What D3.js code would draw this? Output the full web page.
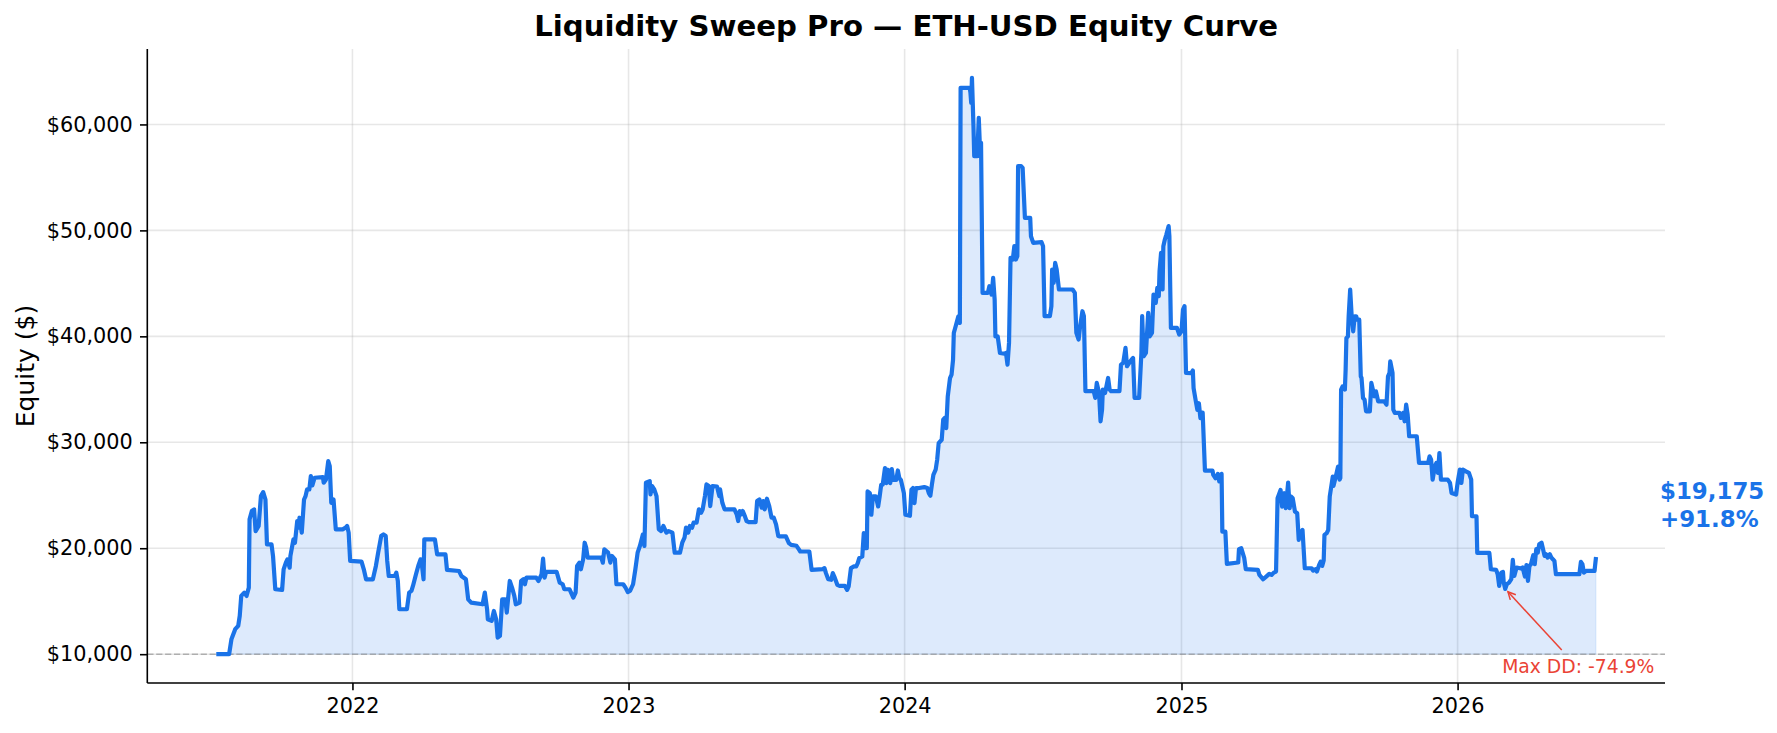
<!DOCTYPE html>
<html>
<head>
<meta charset="utf-8">
<script src="https://d3js.org/d3.v7.min.js"></script>
<style>
  body { margin: 0; background: #fff; }
  svg { display: block; font-family: "DejaVu Sans", sans-serif; }
</style>
</head>
<body>
<div id="chart"></div>
<script>
// equity curve (one row of dates <-> one row of values)
const dates = [
  "2021-07-05","2021-07-22","2021-07-25","2021-07-30","2021-08-03","2021-08-05","2021-08-07","2021-08-11",
  "2021-08-14","2021-08-17","2021-08-18","2021-08-21","2021-08-24","2021-08-26","2021-08-30","2021-09-02",
  "2021-09-05","2021-09-08","2021-09-10","2021-09-16","2021-09-18","2021-09-21","2021-09-30","2021-10-02",
  "2021-10-05","2021-10-07","2021-10-10","2021-10-11","2021-10-15","2021-10-17","2021-10-20","2021-10-22",
  "2021-10-23","2021-10-26","2021-10-29","2021-10-31","2021-11-02","2021-11-05","2021-11-07","2021-11-09",
  "2021-11-12","2021-11-23","2021-11-24","2021-11-27","2021-11-30","2021-12-02","2021-12-04","2021-12-07",
  "2021-12-10","2021-12-19","2021-12-23","2021-12-25","2021-12-27","2021-12-29","2022-01-13","2022-01-16",
  "2022-01-19","2022-01-28","2022-02-01","2022-02-04","2022-02-08","2022-02-11","2022-02-14","2022-02-16",
  "2022-02-18","2022-02-26","2022-02-28","2022-03-02","2022-03-04","2022-03-14","2022-03-17","2022-03-20",
  "2022-03-22","2022-03-26","2022-03-29","2022-04-01","2022-04-03","2022-04-05","2022-04-06","2022-04-20",
  "2022-04-23","2022-05-04","2022-05-06","2022-05-22","2022-05-25","2022-05-31","2022-06-03","2022-06-07",
  "2022-06-22","2022-06-25","2022-06-28","2022-06-29","2022-07-04","2022-07-07","2022-07-10","2022-07-12",
  "2022-07-15","2022-07-18","2022-07-22","2022-07-24","2022-07-28","2022-07-31","2022-08-03","2022-08-05",
  "2022-08-10","2022-08-12","2022-08-15","2022-08-17","2022-08-19","2022-09-01","2022-09-04","2022-09-08",
  "2022-09-10","2022-09-12","2022-09-14","2022-09-28","2022-10-02","2022-10-06","2022-10-08","2022-10-15",
  "2022-10-17","2022-10-20","2022-10-23","2022-10-25","2022-10-28","2022-10-30","2022-11-02","2022-11-04",
  "2022-11-06","2022-11-08","2022-11-26","2022-11-28","2022-11-30","2022-12-05","2022-12-08","2022-12-10",
  "2022-12-14","2022-12-16","2022-12-25","2022-12-28","2022-12-31","2023-01-03","2023-01-07","2023-01-10",
  "2023-01-13","2023-01-16","2023-01-20","2023-01-22","2023-01-24","2023-01-29","2023-01-30","2023-02-01",
  "2023-02-04","2023-02-07","2023-02-10","2023-02-13","2023-02-16","2023-02-20","2023-02-23","2023-02-28",
  "2023-03-03","2023-03-10","2023-03-13","2023-03-16","2023-03-18","2023-03-21","2023-03-23","2023-03-26",
  "2023-03-28","2023-04-01","2023-04-04","2023-04-07","2023-04-09","2023-04-12","2023-04-14","2023-04-17",
  "2023-04-19","2023-04-22","2023-04-28","2023-05-01","2023-05-02","2023-05-05","2023-05-08","2023-05-21",
  "2023-05-24","2023-05-26","2023-05-28","2023-05-30","2023-06-01","2023-06-04","2023-06-06","2023-06-09",
  "2023-06-18","2023-06-20","2023-06-23","2023-06-26","2023-06-28","2023-06-30","2023-07-03","2023-07-06",
  "2023-07-09","2023-07-12","2023-07-15","2023-07-18","2023-07-20","2023-07-28","2023-08-01","2023-08-04",
  "2023-08-11","2023-08-14","2023-08-16","2023-08-28","2023-08-31","2023-09-15","2023-09-17","2023-09-19",
  "2023-09-22","2023-09-26","2023-09-28","2023-09-30","2023-10-04","2023-10-07","2023-10-14","2023-10-17",
  "2023-10-19","2023-10-22","2023-10-26","2023-10-29","2023-10-31","2023-11-02","2023-11-06","2023-11-08",
  "2023-11-10","2023-11-12","2023-11-13","2023-11-16","2023-11-18","2023-11-20","2023-11-24","2023-11-27",
  "2023-11-29","2023-12-01","2023-12-03","2023-12-06","2023-12-08","2023-12-10","2023-12-13","2023-12-15",
  "2023-12-17","2023-12-21","2023-12-23","2023-12-25","2023-12-27","2023-12-30","2023-12-31","2024-01-02",
  "2024-01-08","2024-01-10","2024-01-12","2024-01-14","2024-01-16","2024-01-20","2024-01-27","2024-01-31",
  "2024-02-02","2024-02-04","2024-02-06","2024-02-08","2024-02-11","2024-02-13","2024-02-15","2024-02-19",
  "2024-02-21","2024-02-23","2024-02-25","2024-02-27","2024-03-01","2024-03-03","2024-03-05","2024-03-06",
  "2024-03-09","2024-03-12","2024-03-14","2024-03-15","2024-03-27","2024-03-28","2024-03-29","2024-03-30",
  "2024-04-01","2024-04-02","2024-04-06","2024-04-08","2024-04-10","2024-04-11","2024-04-13","2024-04-20",
  "2024-04-22","2024-04-25","2024-04-27","2024-04-29","2024-04-30","2024-05-03","2024-05-06","2024-05-12",
  "2024-05-14","2024-05-16","2024-05-18","2024-05-20","2024-05-23","2024-05-25","2024-05-27","2024-05-29",
  "2024-05-30","2024-06-03","2024-06-05","2024-06-08","2024-06-15","2024-06-16","2024-06-19","2024-06-30",
  "2024-07-02","2024-07-04","2024-07-11","2024-07-13","2024-07-14","2024-07-16","2024-07-18","2024-07-20",
  "2024-07-23","2024-08-10","2024-08-13","2024-08-15","2024-08-18","2024-08-20","2024-08-23","2024-08-25",
  "2024-08-27","2024-09-07","2024-09-09","2024-09-11","2024-09-14","2024-09-16","2024-09-18","2024-09-19",
  "2024-09-22","2024-09-26","2024-09-28","2024-09-30","2024-10-11","2024-10-13","2024-10-16","2024-10-19",
  "2024-10-21","2024-10-24","2024-10-27","2024-10-29","2024-10-31","2024-11-06","2024-11-09","2024-11-10",
  "2024-11-12","2024-11-15","2024-11-18","2024-11-20","2024-11-23","2024-11-25","2024-11-28","2024-11-30",
  "2024-12-02","2024-12-03","2024-12-05","2024-12-07","2024-12-08","2024-12-10","2024-12-12","2024-12-15",
  "2024-12-16","2024-12-18","2024-12-26","2024-12-29","2025-01-01","2025-01-03","2025-01-05","2025-01-07",
  "2025-01-14","2025-01-16","2025-01-17","2025-01-20","2025-01-22","2025-01-24","2025-01-26","2025-01-27",
  "2025-01-29","2025-02-01","2025-02-11","2025-02-12","2025-02-15","2025-02-18","2025-02-20","2025-02-23",
  "2025-02-24","2025-02-28","2025-03-02","2025-03-17","2025-03-18","2025-03-21","2025-03-23","2025-03-25",
  "2025-03-27","2025-04-12","2025-04-14","2025-04-19","2025-04-23","2025-04-27","2025-04-30","2025-05-03",
  "2025-05-06","2025-05-08","2025-05-12","2025-05-14","2025-05-17","2025-05-19","2025-05-22","2025-05-24",
  "2025-05-26","2025-05-28","2025-05-31","2025-06-03","2025-06-05","2025-06-07","2025-06-10","2025-06-13",
  "2025-06-22","2025-06-24","2025-06-27","2025-06-29","2025-07-02","2025-07-04","2025-07-06","2025-07-08",
  "2025-07-09","2025-07-12","2025-07-14","2025-07-16","2025-07-20","2025-07-21","2025-07-24","2025-07-27",
  "2025-07-29","2025-07-30","2025-07-31","2025-08-02","2025-08-05","2025-08-06","2025-08-07","2025-08-09",
  "2025-08-10","2025-08-12","2025-08-14","2025-08-16","2025-08-18","2025-08-20","2025-08-21","2025-08-24",
  "2025-08-26","2025-08-27","2025-08-29","2025-08-31","2025-09-02","2025-09-07","2025-09-09","2025-09-11",
  "2025-09-13","2025-09-15","2025-09-18","2025-09-26","2025-09-29","2025-10-01","2025-10-03","2025-10-04",
  "2025-10-07","2025-10-08","2025-10-10","2025-10-16","2025-10-18","2025-10-21","2025-10-23","2025-10-25",
  "2025-10-27","2025-10-29","2025-11-08","2025-11-11","2025-11-23","2025-11-25","2025-11-27","2025-11-29",
  "2025-12-02","2025-12-04","2025-12-06","2025-12-08","2025-12-10","2025-12-19","2025-12-22","2025-12-24",
  "2025-12-30","2026-01-01","2026-01-04","2026-01-06","2026-01-08","2026-01-12","2026-01-16","2026-01-19",
  "2026-01-20","2026-01-26","2026-01-27","2026-02-12","2026-02-14","2026-02-21","2026-02-23","2026-02-25",
  "2026-02-28","2026-03-02","2026-03-03","2026-03-05","2026-03-07","2026-03-10","2026-03-13","2026-03-15",
  "2026-03-17","2026-03-20","2026-03-26","2026-03-28","2026-03-31","2026-04-02","2026-04-04","2026-04-06",
  "2026-04-08","2026-04-11","2026-04-13","2026-04-15","2026-04-17","2026-04-19","2026-04-22","2026-04-24",
  "2026-04-26","2026-04-28","2026-04-30","2026-05-03","2026-05-05","2026-05-07","2026-05-09","2026-05-11",
  "2026-06-11","2026-06-13","2026-06-15","2026-06-17","2026-06-20","2026-07-01","2026-07-03"
];

const equity = [
  10000,10000,11400,12360,12670,13610,15500,15810,
  15500,16280,22720,23510,23670,21620,22100,24920,
  25300,24600,20370,20370,19270,16130,16060,18010,
  18640,18950,18170,19270,20840,20520,22570,21940,
  22880,21470,24600,24920,25550,25550,26810,25930,
  26650,26710,26180,26490,28220,27750,24290,24600,
  21780,21780,21940,22100,21470,18800,18730,18010,
  17070,17070,18330,19580,21150,21310,21150,18800,
  17380,17380,17700,16910,14240,14240,15810,15970,
  16440,17540,18330,18950,18330,17070,20840,20840,
  19420,19420,17950,17850,17380,17070,15180,14870,
  14710,15810,14240,13300,13140,14080,13300,11570,
  11730,15180,15180,13930,16910,16280,15500,14710,
  14870,16910,17070,16600,17230,17230,16910,17540,
  19020,17230,17760,17760,16750,16600,16130,16130,
  15810,15340,15810,18330,18640,18010,18950,20520,
  20050,19110,19110,18640,19900,19580,18640,19270,
  18950,16600,16600,16280,15870,15970,16600,18010,
  19580,20210,21310,20210,26180,26340,25080,25870,
  25550,24920,21780,21620,22100,21470,21620,21470,
  19580,19580,20520,20990,21940,21470,22100,21940,
  22410,22410,23670,23350,23670,24920,26020,25870,
  23980,25870,25810,24920,25550,24290,23670,23670,
  23200,22570,23510,23200,23510,22980,22570,22470,
  22470,24450,24600,23830,24450,23670,24670,23980,
  22880,22880,22250,21150,21110,21110,20480,20320,
  20230,19910,19690,19690,17960,18030,18120,17650,
  17080,17020,17650,17330,16550,16450,16450,16070,
  16390,18120,18280,18280,18590,19060,19220,21430,
  20010,20010,25360,25200,23160,24890,24890,23940,
  24890,25990,25990,27560,26150,27410,26150,27470,
  26460,26460,27340,26620,26460,25520,25200,23160,
  23060,25520,25680,24260,25680,25680,25770,25680,
  25200,24950,25990,26930,27410,28350,29920,30240,
  32130,32290,31340,34330,36060,36380,37790,40310,
  41100,41880,41260,63460,63460,62990,62040,64400,
  59840,57010,57010,60630,57010,58270,44100,44100,
  44730,43940,45520,43470,40000,40000,38440,38370,
  38440,37330,39380,47410,47250,48510,47250,47560,
  56060,56060,55900,51180,51180,49450,48820,48890,
  48510,41900,41900,42840,46300,45050,46930,46300,
  44420,44420,44100,40320,39690,40950,42370,41900,
  34820,34820,34190,35600,34660,31980,33080,34970,
  34660,36070,34970,34820,34820,37330,37490,38910,
  37180,37490,37800,37960,34190,34190,38440,41900,
  38120,38440,42210,40000,40320,43940,43160,44570,
  43790,46150,47880,44420,48510,49140,49610,50400,
  49450,40800,40800,40170,40480,42530,42840,36550,
  36530,36780,35110,33850,33060,33690,32280,32810,
  32810,27330,27330,26920,26610,27020,26300,27020,
  21570,21570,18520,18650,19910,20000,19530,19060,
  18020,17950,17480,17070,17320,17580,17480,17700,
  17800,24720,25510,23930,25190,23780,26200,23780,
  24880,24720,23460,23300,20790,21420,21730,18110,
  18110,17890,18020,17800,18430,18740,18330,18840,
  21260,21420,21730,24880,26770,25890,26770,27710,
  26480,26640,34970,35280,34970,36860,39840,40000,
  41890,44400,41890,40470,41890,41890,41570,41570,
  36230,36070,34180,34030,32920,32920,35600,34970,
  34340,34810,33870,33870,33550,36230,36540,37640,
  36540,33080,32770,32770,32300,32770,31980,33550,
  32610,30570,30570,28050,28050,28680,28360,26480,
  27740,28050,27110,28990,26480,26480,26160,25220,
  25060,26160,27420,26160,27420,27260,27110,26480,
  23020,23020,19560,19560,18020,17960,17550,16450,
  17700,17770,16760,16160,16600,16760,17080,18900,
  17390,18180,18080,18180,17330,18400,16920,18330,
  18490,19340,18490,19910,19590,20380,20530,19910,
  19280,19430,19120,19430,19120,18960,18810,17550,
  17550,18710,18490,17700,17860,17860,19175
];

const startCapital = 10000;
const yTicks = [10000, 20000, 30000, 40000, 50000, 60000];
const xTickYears = [2022, 2023, 2024, 2025, 2026];
const titleText = "Liquidity Sweep Pro — ETH-USD Equity Curve";
const yLabelText = "Equity ($)";

if (dates.length !== equity.length) console.warn("length mismatch", dates.length, equity.length);

const blue = "#1a73e8", red = "#ea4335";
const W = 1777, H = 733;
const margin = {top: 49, right: 112, bottom: 50, left: 147.3};
const width = W - margin.left - margin.right,
      height = H - margin.top - margin.bottom;

const parseDate = d3.timeParse("%Y-%m-%d");
const data = dates.map((d, i) => ({date: parseDate(d), value: equity[i]}));

const svg = d3.select("#chart")
  .append("svg")
  .attr("width", W)
  .attr("height", H);

const g = svg.append("g")
  .attr("transform", `translate(${margin.left}, ${margin.top})`);

// scales, with matplotlib-like 5% margins
const [t0, t1] = d3.extent(data, d => d.date);
const tPad = (t1 - t0) * 0.05;
const x = d3.scaleTime()
  .domain([new Date(+t0 - tPad), new Date(+t1 + tPad)])
  .range([0, width]);

const vMin = Math.min(startCapital, d3.min(equity)),
      vMax = d3.max(equity);
const vPad = (vMax - vMin) * 0.05;
const y = d3.scaleLinear()
  .domain([vMin - vPad, vMax + vPad])
  .range([height, 0]);

const yearTicks = xTickYears.map(yr => new Date(yr, 0, 1));

// grid
g.append("g")
  .selectAll("line.hgrid")
  .data(yTicks)
  .join("line")
  .attr("x1", 0).attr("x2", width)
  .attr("y1", d => y(d)).attr("y2", d => y(d))
  .attr("stroke", "#b0b0b0").attr("stroke-opacity", 0.3).attr("stroke-width", 1.6);

g.append("g")
  .selectAll("line.vgrid")
  .data(yearTicks)
  .join("line")
  .attr("x1", d => x(d)).attr("x2", d => x(d))
  .attr("y1", 0).attr("y2", height)
  .attr("stroke", "#b0b0b0").attr("stroke-opacity", 0.3).attr("stroke-width", 1.6);

// fill down to starting capital
const area = d3.area()
  .x(d => x(d.date))
  .y0(y(startCapital))
  .y1(d => y(d.value));

g.append("path")
  .datum(data)
  .attr("d", area)
  .attr("fill", blue)
  .attr("fill-opacity", 0.15)
  .attr("stroke", blue)
  .attr("stroke-opacity", 0.12)
  .attr("stroke-width", 1);

// starting capital reference
g.append("line")
  .attr("x1", 0).attr("x2", width)
  .attr("y1", y(startCapital)).attr("y2", y(startCapital))
  .attr("stroke", "#808080")
  .attr("stroke-opacity", 0.55)
  .attr("stroke-width", 1.4)
  .attr("stroke-dasharray", "6.2,2.7");

// equity line
const line = d3.line()
  .x(d => x(d.date))
  .y(d => y(d.value));

g.append("path")
  .datum(data)
  .attr("d", line)
  .attr("fill", "none")
  .attr("stroke", blue)
  .attr("stroke-width", 4.2)
  .attr("stroke-linejoin", "round");

// axes (left + bottom spines only)
const yAxis = d3.axisLeft(y)
  .tickValues(yTicks)
  .tickFormat(d3.format("$,"))
  .tickSizeInner(7.3)
  .tickSizeOuter(0)
  .tickPadding(7.3);

const xAxis = d3.axisBottom(x)
  .tickValues(yearTicks)
  .tickFormat(d3.timeFormat("%Y"))
  .tickSizeInner(7.3)
  .tickSizeOuter(0)
  .tickPadding(7.3);

const yG = g.append("g").call(yAxis);
const xG = g.append("g").attr("transform", `translate(0, ${height})`).call(xAxis);

[yG, xG].forEach(ax => {
  ax.select(".domain").attr("stroke", "#000").attr("stroke-width", 1.6);
  ax.selectAll(".tick line").attr("stroke", "#000").attr("stroke-width", 1.6);
  ax.selectAll(".tick text")
    .attr("fill", "#000")
    .style("font-family", "DejaVu Sans")
    .style("font-size", "20.8px");
});
// y domain line spans whole plot height
yG.select(".domain").attr("d", `M0,0V${height}`);
xG.select(".domain").attr("d", `M0,0H${width}`);
xG.selectAll(".tick text").attr("dy", "0.74em");

// title + y label
svg.append("text")
  .attr("x", margin.left + width / 2)
  .attr("y", 35.5)
  .attr("text-anchor", "middle")
  .style("font-size", "29.2px")
  .style("font-weight", "bold")
  .text(titleText);

svg.append("text")
  .attr("transform", `translate(25, ${margin.top + height / 2}) rotate(-90)`)
  .attr("text-anchor", "middle")
  .attr("dy", "0.35em")
  .style("font-size", "25px")
  .text(yLabelText);

// final value label
const last = data[data.length - 1];
const finalLabel = d3.format("$,")(last.value);
const retLabel = "+" + ((last.value - startCapital) * 100 / startCapital).toFixed(1) + "%";
const xe = x(last.date), ye = y(last.value);

const endText = g.append("text")
  .attr("x", xe + 64)
  .attr("y", ye - 57.5)
  .attr("fill", blue)
  .style("font-size", "22.9px")
  .style("font-weight", "bold");
endText.append("tspan").attr("x", xe + 64).text(finalLabel);
endText.append("tspan").attr("x", xe + 64).attr("dy", 27.5).text(retLabel);

// max drawdown annotation
let peak = -Infinity, worst = 0, worstIdx = 0;
data.forEach((d, i) => {
  peak = Math.max(peak, d.value);
  const dd = d.value / peak - 1;
  if (dd < worst) { worst = dd; worstIdx = i; }
});
const ddPt = data[worstIdx];
const px = x(ddPt.date), py = y(ddPt.value);

const tail = [px + 56.5, py + 61];
const dir = [tail[0] - px, tail[1] - py];
const len = Math.hypot(dir[0], dir[1]);
const u = [dir[0] / len, dir[1] / len];
const tip = [px + u[0] * 4, py + u[1] * 4];
const perp = [-u[1], u[0]];
const hl = 7.5, hw = 3.75;

g.append("line")
  .attr("x1", tail[0]).attr("y1", tail[1])
  .attr("x2", tip[0]).attr("y2", tip[1])
  .attr("stroke", red).attr("stroke-width", 1.5);

g.append("path")
  .attr("d", `M${tip[0] + u[0] * hl + perp[0] * hw},${tip[1] + u[1] * hl + perp[1] * hw}` +
             `L${tip[0]},${tip[1]}` +
             `L${tip[0] + u[0] * hl - perp[0] * hw},${tip[1] + u[1] * hl - perp[1] * hw}`)
  .attr("fill", "none")
  .attr("stroke", red)
  .attr("stroke-width", 1.5);

g.append("text")
  .attr("x", px + 73)
  .attr("y", py + 84)
  .attr("text-anchor", "middle")
  .attr("fill", red)
  .style("font-size", "18.75px")
  .text("Max DD: " + (worst * 100).toFixed(1) + "%");
</script>
</body>
</html>
